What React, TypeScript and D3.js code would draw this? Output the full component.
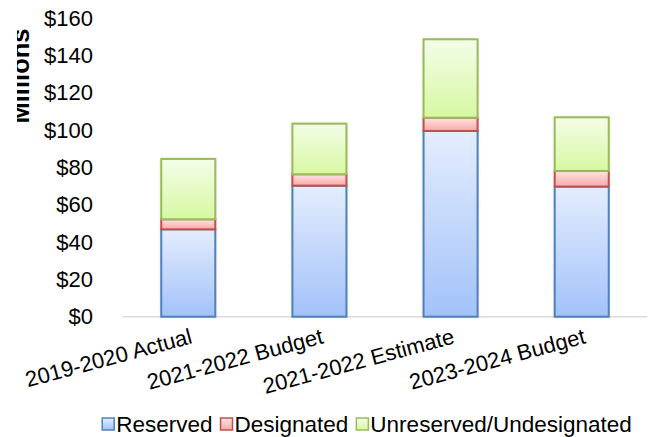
import React, { useEffect, useRef } from "react";
import * as d3 from "d3";

const categories = ["2019-2020 Actual", "2021-2022 Budget", "2021-2022 Estimate", "2023-2024 Budget"];
const seriesNames = ["Reserved", "Designated", "Unreserved/Undesignated"];
const reserved = [46.8, 70.2, 99.5, 69.7];
const designated = [5.4, 6.1, 7.1, 8.4];
const unreserved = [32.3, 27.1, 42.0, 28.7];
const yTicks = [0, 20, 40, 60, 80, 100, 120, 140, 160];

const W = 650, H = 437;
const FONT = "'Liberation Sans', Arial, sans-serif";
const colors = [
  { top: "#e4edfd", bottom: "#a2c2fa", stroke: "#4f81bd" },
  { top: "#ffe3e3", bottom: "#f9a9a9", stroke: "#c0504d" },
  { top: "#f3fde8", bottom: "#d7f8a2", stroke: "#9bbb59" },
];

export default function App() {
  const ref = useRef<SVGSVGElement>(null);
  useEffect(() => {
    const svg = d3.select(ref.current);
    svg.selectAll("*").remove();
    const defs = svg.append("defs");
    colors.forEach((c, i) => {
      const g = defs.append("linearGradient").attr("id", "grad" + i).attr("x1", 0).attr("y1", 0).attr("x2", 0).attr("y2", 1);
      g.append("stop").attr("offset", "0%").attr("stop-color", c.top);
      g.append("stop").attr("offset", "100%").attr("stop-color", c.bottom);
    });
    const f = defs.append("filter").attr("id", "shadow").attr("x", "-20%").attr("y", "-20%").attr("width", "140%").attr("height", "140%");
    f.append("feDropShadow").attr("dx", 0).attr("dy", 0).attr("stdDeviation", 1.6).attr("flood-color", "#000").attr("flood-opacity", 0.25);
    defs.append("clipPath").attr("id", "titleclip").append("rect").attr("x", 17).attr("y", 0).attr("width", 40).attr("height", 200);

    const y = d3.scaleLinear().domain([0, 160]).range([316.7, 18]);
    const x = d3.scaleBand().domain(categories).range([122.7, 647.3]).padding(0);
    const barW = x.bandwidth() * 0.412;

    // y tick labels
    svg.append("g").selectAll("text").data(yTicks).join("text")
      .attr("x", 93).attr("y", (d) => y(d)).attr("dy", "0.35em")
      .attr("text-anchor", "end").attr("font-family", FONT).attr("font-size", 22).attr("fill", "#000")
      .text((d) => "$" + d);

    // axis title (partly clipped as in reference)
    svg.append("g").attr("clip-path", "url(#titleclip)")
      .append("text")
      .attr("transform", `translate(28.5,76) rotate(-90)`)
      .attr("text-anchor", "middle").attr("font-family", FONT).attr("font-weight", "bold").attr("font-size", 25.5)
      .text("Millions");

    // axis line
    svg.append("line").attr("x1", 122.7).attr("x2", 647.3).attr("y1", y(0)).attr("y2", y(0))
      .attr("stroke", "#d9d9d9").attr("stroke-width", 1.5);

    const data = categories.map((c, i) => ({ cat: c, Reserved: reserved[i], Designated: designated[i], "Unreserved/Undesignated": unreserved[i] }));
    const stack = d3.stack<any>().keys(seriesNames)(data);
    const gBars = svg.append("g");
    stack.forEach((layer, si) => {
      gBars.append("g").selectAll("rect").data(layer).join("rect")
        .attr("x", (d: any) => (x(d.data.cat) as number) + x.bandwidth() / 2 - barW / 2)
        .attr("width", barW)
        .attr("y", (d: any) => y(d[1]))
        .attr("height", (d: any) => y(d[0]) - y(d[1]))
        .attr("fill", "url(#grad" + si + ")")
        .attr("filter", "url(#shadow)");
    });
    stack.forEach((layer, si) => {
      gBars.append("g").selectAll("rect").data(layer).join("rect")
        .attr("x", (d: any) => (x(d.data.cat) as number) + x.bandwidth() / 2 - barW / 2)
        .attr("width", barW)
        .attr("y", (d: any) => y(d[1]))
        .attr("height", (d: any) => y(d[0]) - y(d[1]))
        .attr("fill", "url(#grad" + si + ")")
        .attr("stroke", colors[si].stroke).attr("stroke-width", 2);
    });

    // x labels
    svg.append("g").selectAll("text").data(categories).join("text")
      .attr("transform", (d) => `translate(${(x(d) as number) + x.bandwidth() / 2 + 5},343) rotate(-15)`)
      .attr("text-anchor", "end").attr("font-family", FONT).attr("font-size", 22).attr("fill", "#000")
      .text((d) => d);

    // legend
    const lg = svg.append("g");
    const items = lg.selectAll("g").data(seriesNames).join("g");
    items.append("rect").attr("width", 12).attr("height", 12)
      .attr("fill", (_, i) => "url(#grad" + i + ")").attr("stroke", (_, i) => colors[i].stroke).attr("stroke-width", 1.5);
    items.append("text").attr("x", 14).attr("y", 6).attr("dy", "0.35em")
      .attr("font-family", FONT).attr("font-size", 22.5).attr("fill", "#000").text((d) => d);
    const widths: number[] = [];
    items.each(function () {
      const t = d3.select(this).select("text").node() as SVGTextElement;
      widths.push(14 + t.getComputedTextLength());
    });
    const gap = 8;
    const total = widths.reduce((a, b) => a + b, 0) + gap * (widths.length - 1);
    let cx = 367 - total / 2;
    items.attr("transform", (_, i) => {
      const tx = cx;
      cx += widths[i] + gap;
      return `translate(${tx},418)`;
    });
  }, []);
  return (
    <svg ref={ref} width={W} height={H} style={{ position: "absolute", left: 0, top: 0, background: "#fff" }} />
  );
}
